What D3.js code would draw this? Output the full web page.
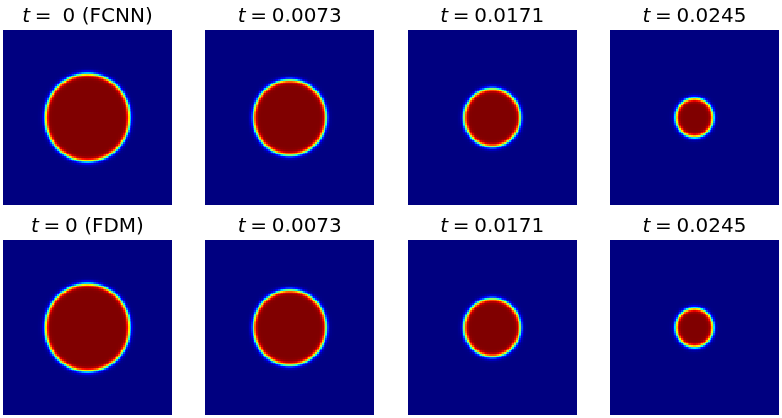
<!DOCTYPE html>
<html>
<head>
<meta charset="utf-8">
<script src="https://cdn.jsdelivr.net/npm/d3@7"></script>
<style>
  html, body { margin: 0; padding: 0; background: #fff; }
  #wrap { position: relative; width: 782px; height: 418px; overflow: hidden; }
  #wrap canvas, #wrap svg { position: absolute; left: 0; top: 0; }
</style>
</head>
<body>
<div id="wrap"></div>
<script>
// ---- data ----
const times = ["0", "0.0073", "0.0171", "0.0245"];
const methods = ["FCNN", "FDM"];
const radiiFCNN = [0.25, 0.215, 0.166, 0.111];   // interface radius (domain units)
const radiiFDM  = [0.25, 0.215, 0.166, 0.111];
const interfaceWidth = 0.0135;                    // tanh profile width
const gridN = 100;                                // grid resolution
const center = [0.5, 0.5];

const W = 782, H = 418;
const wrap = d3.select("#wrap");
const canvas = wrap.append("canvas").attr("width", W).attr("height", H).node();
const ctx = canvas.getContext("2d");
const svg = wrap.append("svg").attr("width", W).attr("height", H);

// panel layout
const xBand = d3.scaleBand().domain(d3.range(4)).range([3, 779]).paddingInner(0.165).paddingOuter(0);
const yBand = d3.scaleBand().domain(d3.range(2)).range([30, 415]).paddingInner(1/6).paddingOuter(0);

// jet colormap (matplotlib segment data)
const jetR = d3.scaleLinear().domain([0, 0.35, 0.66, 0.89, 1]).range([0, 0, 1, 1, 0.5]).clamp(true);
const jetG = d3.scaleLinear().domain([0, 0.125, 0.375, 0.64, 0.91, 1]).range([0, 0, 1, 1, 0, 0]).clamp(true);
const jetB = d3.scaleLinear().domain([0, 0.11, 0.34, 0.65, 1]).range([0.5, 1, 1, 0, 0]).clamp(true);
const norm = d3.scaleLinear().domain([0, 1]).range([0, 1]).clamp(true);

const cell = d3.scaleLinear().domain([0, gridN]).range([0, 1]);

function fieldImage(R) {
  const off = document.createElement("canvas");
  off.width = gridN; off.height = gridN;
  const octx = off.getContext("2d");
  const img = octx.createImageData(gridN, gridN);
  for (let j = 0; j < gridN; j++) {
    for (let i = 0; i < gridN; i++) {
      const x = cell(i + 0.5), y = cell(j + 0.5);
      const r = Math.hypot(x - center[0], y - center[1]);
      const phi = 0.5 * (1 + Math.tanh((R - r) / interfaceWidth));
      const v = norm(phi);
      const k = 4 * (j * gridN + i);
      img.data[k]     = Math.round(255 * jetR(v));
      img.data[k + 1] = Math.round(255 * jetG(v));
      img.data[k + 2] = Math.round(255 * jetB(v));
      img.data[k + 3] = 255;
    }
  }
  octx.putImageData(img, 0, 0);
  return off;
}

ctx.imageSmoothingEnabled = false;
const radiiRows = [radiiFCNN, radiiFDM];

radiiRows.forEach((radii, row) => {
  radii.forEach((R, col) => {
    const x0 = xBand(col), y0 = yBand(row);
    ctx.drawImage(fieldImage(R), x0, y0, xBand.bandwidth(), yBand.bandwidth());

    const label = col === 0 ? (row === 0 ? " 0 (" + methods[row] + ")" : "0 (" + methods[row] + ")") : times[col];
    const t = svg.append("text")
      .attr("x", x0 + xBand.bandwidth() / 2)
      .attr("y", y0 - 8)
      .attr("text-anchor", "middle")
      .style("font-family", "'DejaVu Sans', sans-serif")
      .style("font-size", "20px")
      .style("fill", "#000")
      .attr("xml:space", "preserve");
    t.append("tspan").style("font-style", "italic").text("t");
    t.append("tspan").attr("dx", 4.7).text("=");
    t.append("tspan").attr("dx", 4.7).text(label);
  });
});
</script>
</body>
</html>
